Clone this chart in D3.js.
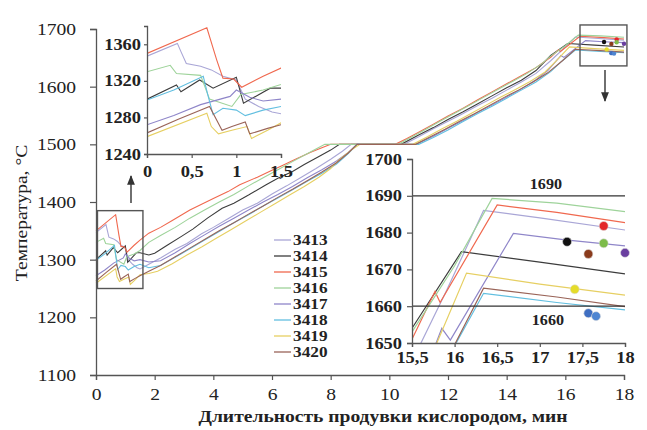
<!DOCTYPE html>
<html>
<head>
<meta charset="utf-8">
<title>temperatura</title>
<script src="https://d3js.org/d3.v7.min.js"></script>
<style>
body{margin:0;background:#fff;}
text{font-family:"Liberation Serif","Times New Roman",serif;fill:#222;}
</style>
</head>
<body>
<svg id="chart" width="647" height="430"></svg>
<script>
// heats
const names = ["3413","3414","3415","3416","3417","3418","3419","3420"];
const colors = ["#a9a6d6","#3c3c3c","#f0684e","#9ed39a","#8f86c9","#62bfe0","#e6cf62","#9a6458"];

// [time, temp]
const s3413 = [[0,1347],[0.34,1361],[0.38,1352],[0.44,1339],[0.6,1336],[0.72,1332],[0.85,1325],[1.0,1321],[1.1,1300],[1.25,1292],[1.4,1286],[1.5,1284],[1.8,1292],[2.2,1303],[2.7,1318],[3.1,1328],[3.6,1345],[4.0,1356],[4.5,1371],[5.0,1386],[5.5,1398],[6.0,1414],[6.5,1428],[7.0,1443],[7.5,1458],[8.0,1474],[8.4,1488],[8.7,1500],[10.5,1500],[11.0,1513],[11.5,1527],[12.0,1540],[12.5,1553],[13.0,1567],[13.5,1580],[14.0,1594],[14.5,1608],[15.0,1623],[15.5,1645],[15.9,1664],[16.34,1686],[17.0,1684],[18,1680.7]];
const s3414 = [[0,1300],[0.33,1315.5],[0.38,1308],[0.59,1321],[0.74,1312],[1.0,1324],[1.08,1295.5],[1.38,1312],[1.5,1312],[1.8,1308],[2.0,1311],[2.4,1324],[2.9,1340],[3.3,1353],[3.8,1372],[4.3,1389],[4.7,1398],[5.2,1412],[5.8,1430],[6.2,1441],[6.7,1453],[7.1,1465],[7.6,1479],[8.0,1490],[8.3,1500],[10.4,1500],[11.0,1516],[11.5,1529],[12.0,1543],[12.5,1556],[13.0,1570],[13.5,1584],[14.0,1598],[14.5,1611],[15.0,1628],[15.5,1654],[16.08,1674.8],[17.0,1672],[18,1668.8]];
const s3415 = [[0,1350],[0.67,1378],[0.78,1343],[0.85,1323],[0.97,1322],[1.06,1313],[1.3,1325],[1.5,1334],[1.8,1346],[2.2,1356],[2.6,1368],[3.2,1386],[3.6,1396],[4.0,1406],[4.5,1418],[4.9,1430],[5.5,1443],[6.0,1455],[6.3,1462],[6.8,1474],[7.3,1486],[7.7,1494],[8.0,1500],[10.2,1500],[10.6,1510],[11.0,1521],[11.5,1535],[12.0,1549],[12.5,1562],[13.0,1577],[13.5,1591],[14.0,1605],[14.5,1619],[15.0,1633],[15.5,1651],[15.77,1664],[15.83,1661],[16.5,1687.5],[17.2,1685.5],[18,1682.7]];
const s3416 = [[0,1330],[0.26,1337],[0.33,1328],[0.6,1326],[0.7,1300],[0.95,1292],[1.05,1305],[1.3,1310],[1.5,1316],[1.8,1330],[2.2,1342],[2.7,1356],[3.2,1372],[3.7,1386],[4.2,1400],[4.7,1413],[5.2,1428],[5.7,1442],[6.2,1456],[6.7,1470],[7.1,1481],[7.5,1492],[7.8,1500],[10.3,1500],[10.7,1511],[11.2,1525],[11.7,1539],[12.2,1553],[12.7,1567],[13.2,1581],[13.7,1595],[14.2,1609],[14.7,1623],[15.2,1640],[15.5,1653],[16.0,1671],[16.44,1689.3],[17.2,1688],[18,1685.7]];
const s3417 = [[0,1272],[0.3,1282],[0.6,1294],[0.93,1303],[1.0,1310],[1.15,1302],[1.3,1298],[1.5,1300],[1.8,1296],[2.2,1298],[2.7,1312],[3.2,1328],[3.7,1343],[4.2,1358],[4.7,1372],[5.2,1386],[5.7,1400],[6.2,1413],[6.7,1427],[7.2,1442],[7.7,1456],[8.2,1471],[8.6,1486],[8.9,1500],[10.9,1500],[11.5,1514],[12.0,1528],[12.5,1541],[13.0,1555],[13.5,1568],[14.0,1582],[14.5,1596],[15.0,1612],[15.4,1628],[15.75,1648],[15.85,1654],[15.95,1650.8],[16.69,1679.8],[17.3,1678],[18,1676.4]];
const s3418 = [[0,1299],[0.3,1310],[0.63,1325],[0.68,1305],[0.74,1283],[0.85,1290],[1.0,1288],[1.1,1282],[1.3,1288],[1.5,1292],[1.8,1286],[2.2,1290],[2.7,1304],[3.2,1319],[3.7,1334],[4.2,1349],[4.7,1364],[5.2,1378],[5.7,1393],[6.2,1407],[6.7,1421],[7.2,1436],[7.7,1450],[8.2,1466],[8.6,1484],[8.9,1500],[11.0,1500],[11.5,1512],[12.0,1525],[12.5,1539],[13.0,1553],[13.5,1566],[14.0,1580],[14.5,1594],[15.0,1608],[15.5,1626],[15.9,1645],[16.34,1663.5],[17.2,1661],[18,1659]];
const s3419 = [[0,1259],[0.67,1284.5],[0.72,1270],[0.8,1262],[0.95,1266],[1.12,1270],[1.17,1257],[1.35,1266],[1.5,1274],[1.8,1276],[2.1,1280],[2.6,1293],[3.1,1308],[3.6,1322],[4.1,1337],[4.6,1352],[5.1,1367],[5.6,1382],[6.1,1397],[6.6,1412],[7.1,1427],[7.6,1443],[8.0,1458],[8.3,1474],[8.7,1490],[9.0,1500],[10.8,1500],[11.3,1513],[11.8,1527],[12.3,1540],[12.8,1554],[13.3,1568],[13.8,1582],[14.3,1595],[14.8,1609],[15.3,1625],[15.7,1645],[16.14,1669],[17.0,1666],[18,1663]];
const s3420 = [[0,1263],[0.35,1278],[0.7,1292],[0.84,1266],[0.95,1270],[1.1,1275],[1.15,1262],[1.35,1268],[1.5,1272],[1.8,1280],[2.2,1290],[2.7,1305],[3.2,1320],[3.7,1335],[4.2,1350],[4.7,1364],[5.2,1379],[5.7,1393],[6.2,1408],[6.7,1422],[7.2,1437],[7.7,1452],[8.2,1468],[8.6,1485],[8.9,1500],[10.9,1500],[11.4,1513],[11.9,1526],[12.4,1540],[12.9,1553],[13.4,1567],[13.9,1581],[14.4,1594],[14.9,1608],[15.4,1624],[15.9,1645],[16.34,1664.9],[17.2,1662.5],[18,1659.9]];
const allSeries = [s3413,s3414,s3415,s3416,s3417,s3418,s3419,s3420];

// measured points at end of blow
const dotTime = [17.32,17.75,17.75,17.57,18.0,17.41,17.57,17.66];
const dotTemp = [1677.5,1681.8,1677.1,1674.2,1674.5,1664.6,1658.1,1657.3];
const dotColor = ["#111111","#e3262a","#7dbb4a","#8a3b1c","#6a3fa0","#e5dc2a","#3f6fc2","#4f86d2"];

// limits in the zoomed plot
const limits = [1690,1660];

// ticks
const mainXTicks = [0,2,4,6,8,10,12,14,16,18];
const mainYTicks = [1100,1200,1300,1400,1500,1600,1700];
const in1XTicks = [0,0.5,1,1.5];
const in1YTicks = [1240,1280,1320,1360];
const in2XTicks = [15.5,16,16.5,17,17.5,18];
const in2YTicks = [1650,1660,1670,1680,1690,1700];

const svg = d3.select("#chart");
const comma = d => String(d).replace(".", ",");
const plain = d => String(d);

const line = (x, y) => d3.line().x(d => x(d[0])).y(d => y(d[1]));

function styleAxis(g){
  g.selectAll(".domain").attr("stroke","#555").attr("stroke-width",1.3);
  g.selectAll(".tick line").attr("stroke","#555").attr("stroke-width",1.2);
}

// ---- main chart
const x = d3.scaleLinear().domain([0,18]).range([96,624]);
const y = d3.scaleLinear().domain([1100,1700]).range([375,29]);

svg.append("g").selectAll("path").data(allSeries).join("path")
  .attr("d", line(x,y))
  .attr("fill","none")
  .attr("stroke",(d,i)=>colors[i])
  .attr("stroke-width",1.1);

svg.append("g").selectAll("circle").data(dotTime).join("circle")
  .attr("cx",d=>x(d)).attr("cy",(d,i)=>y(dotTemp[i])).attr("r",2.2)
  .attr("fill",(d,i)=>dotColor[i]);

const gx = svg.append("g").attr("transform","translate(0,375)")
  .call(d3.axisBottom(x).tickValues(mainXTicks).tickFormat(plain).tickSize(5).tickPadding(8));
const gy = svg.append("g").attr("transform","translate(96,0)")
  .call(d3.axisLeft(y).tickValues(mainYTicks).tickFormat(plain).tickSize(6).tickPadding(14));
[gx,gy].forEach(g=>{
  styleAxis(g);
  g.selectAll("text").attr("font-size",17).attr("class","st").attr("font-family","Liberation Serif").attr("fill","#222");
});

svg.append("text").attr("class","st")
  .attr("x",383).attr("y",422).attr("text-anchor","middle")
  .attr("font-size",17).attr("font-weight","bold")
  .text("Длительность продувки кислородом, мин");
svg.append("text").attr("class","st")
  .attr("transform","translate(27,213) rotate(-90)").attr("text-anchor","middle")
  .attr("font-size",17)
  .text("Температура, °C");

// zoom boxes and arrows
svg.append("rect").attr("x",x(0.05)).attr("y",y(1385))
  .attr("width",x(1.6)-x(0.05)).attr("height",y(1250)-y(1385))
  .attr("fill","none").attr("stroke","#555").attr("stroke-width",1.4);
svg.append("rect").attr("x",x(16.5)).attr("y",y(1707))
  .attr("width",x(18.1)-x(16.5)).attr("height",y(1636)-y(1707))
  .attr("fill","none").attr("stroke","#555").attr("stroke-width",1.4);

svg.append("defs").append("marker").attr("id","ah")
  .attr("viewBox","0 0 10 10").attr("refX",9).attr("refY",5)
  .attr("markerWidth",7).attr("markerHeight",7).attr("orient","auto")
  .append("path").attr("d","M0,1 L10,5 L0,9 Z").attr("fill","#333");
svg.append("line").attr("x1",131).attr("y1",203).attr("x2",131).attr("y2",176)
  .attr("stroke","#333").attr("stroke-width",1.4).attr("marker-end","url(#ah)");
svg.append("line").attr("x1",605).attr("y1",70).attr("x2",605).attr("y2",101)
  .attr("stroke","#333").attr("stroke-width",1.4).attr("marker-end","url(#ah)");

// legend
const leg = svg.append("g");
names.forEach((n,i)=>{
  const yy = 240 + i*16;
  leg.append("line").attr("x1",274).attr("x2",291).attr("y1",yy).attr("y2",yy)
    .attr("stroke",colors[i]).attr("stroke-width",1.3);
  leg.append("text").attr("class","st").attr("x",293).attr("y",yy+5)
    .attr("font-size",15).attr("font-weight","bold").text(n);
});

// ---- inset 1: start of blow
const x1 = d3.scaleLinear().domain([0,1.5]).range([147,281]);
const y1 = d3.scaleLinear().domain([1240,1380]).range([154,26]);
svg.append("clipPath").attr("id","c1").append("rect")
  .attr("x",147).attr("y",26).attr("width",134).attr("height",128);
svg.append("g").attr("clip-path","url(#c1)").selectAll("path").data(allSeries).join("path")
  .attr("d", line(x1,y1))
  .attr("fill","none")
  .attr("stroke",(d,i)=>colors[i])
  .attr("stroke-width",1.1);
const g1x = svg.append("g").attr("transform","translate(0,154)")
  .call(d3.axisBottom(x1).tickValues(in1XTicks).tickFormat(comma).tickSize(4).tickPadding(8));
const g1y = svg.append("g").attr("transform","translate(147,0)")
  .call(d3.axisLeft(y1).tickValues(in1YTicks).tickFormat(plain).tickSize(3).tickPadding(3));
[g1x,g1y].forEach(g=>{
  styleAxis(g);
  g.selectAll("text").attr("font-size",16).attr("font-weight","bold").attr("class","st").attr("font-family","Liberation Serif").attr("fill","#222");
});

// ---- inset 2: end of blow
const x2 = d3.scaleLinear().domain([15.5,18]).range([412,625]);
const y2 = d3.scaleLinear().domain([1650,1700]).range([343,159]);
svg.append("clipPath").attr("id","c2").append("rect")
  .attr("x",412).attr("y",159).attr("width",213).attr("height",184);
svg.append("g").attr("clip-path","url(#c2)").selectAll("path").data(allSeries).join("path")
  .attr("d", line(x2,y2))
  .attr("fill","none")
  .attr("stroke",(d,i)=>colors[i])
  .attr("stroke-width",1.2);
svg.append("g").selectAll("line").data(limits).join("line")
  .attr("x1",x2(15.5)).attr("x2",x2(18)).attr("y1",d=>y2(d)).attr("y2",d=>y2(d))
  .attr("stroke","#333").attr("stroke-width",1.3);
svg.append("text").attr("class","st").attr("x",x2(17)-10).attr("y",y2(limits[0])-7)
  .attr("font-size",14).attr("font-weight","bold").text(limits[0]);
svg.append("text").attr("class","st").attr("x",x2(17)-8).attr("y",y2(limits[1])+19)
  .attr("font-size",14).attr("font-weight","bold").text(limits[1]);
svg.append("g").selectAll("circle").data(dotTime).join("circle")
  .attr("cx",d=>x2(d)).attr("cy",(d,i)=>y2(dotTemp[i])).attr("r",4.5)
  .attr("fill",(d,i)=>dotColor[i]).attr("stroke","#ddd").attr("stroke-width",0.6);
const g2x = svg.append("g").attr("transform","translate(0,343)")
  .call(d3.axisBottom(x2).tickValues(in2XTicks).tickFormat(comma).tickSize(4).tickPadding(5));
const g2y = svg.append("g").attr("transform","translate(412,0)")
  .call(d3.axisLeft(y2).tickValues(in2YTicks).tickFormat(plain).tickSize(5).tickPadding(5));
[g2x,g2y].forEach(g=>{
  styleAxis(g);
  g.selectAll("text").attr("font-size",16).attr("font-weight","bold").attr("class","st").attr("font-family","Liberation Serif").attr("fill","#222");
});

// the scan is a little wider than the type, stretch the words a bit
svg.selectAll("text.st").each(function(){
  const w = this.getComputedTextLength();
  d3.select(this).attr("textLength", w*1.15).attr("lengthAdjust","spacingAndGlyphs");
});
</script>
</body>
</html>
